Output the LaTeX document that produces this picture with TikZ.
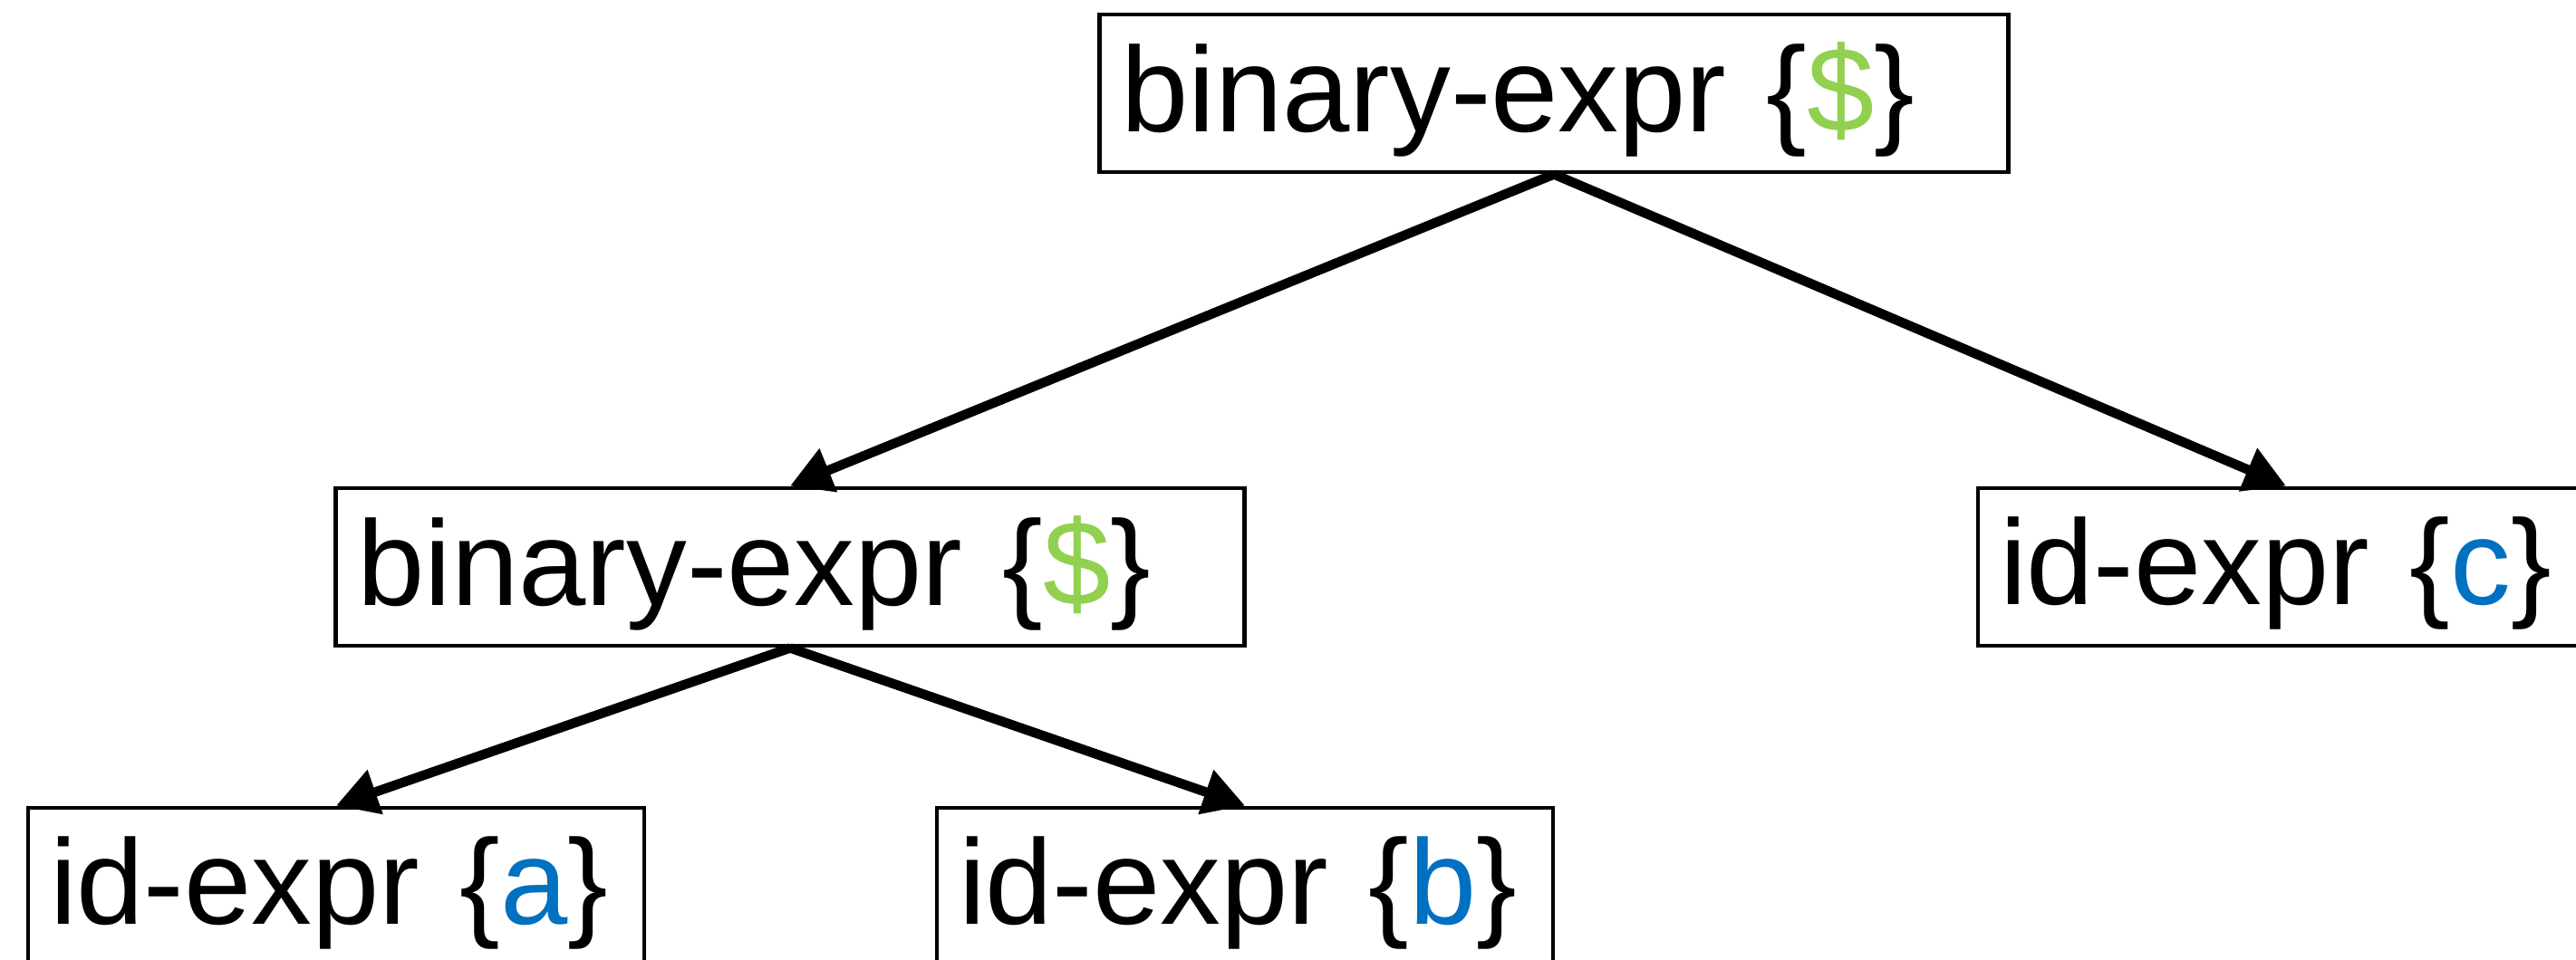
\documentclass[tikz,border=0pt]{standalone}
\usepackage{fontspec}
\setmainfont{Liberation Sans}
\usetikzlibrary{arrows.meta}
\definecolor{dollargreen}{RGB}{146,208,80}
\definecolor{idblue}{RGB}{0,112,192}

\begin{document}
\begin{tikzpicture}

\tikzset{ExprBox/.style={draw, line width=1.4pt, inner xsep=0.24cm, minimum height=1.74cm, text depth=4pt, align=left, font=\fontsize{38}{40}\selectfont}};
\tikzset{wide/.style={ExprBox, text width=9.55cm}};
\tikzset{narrow/.style={ExprBox, text width=6.32cm}};
\tikzset{edge/.style={-{Triangle[length=13pt,width=14pt]}, line width=3pt}};
%\tikzset{edgee/.style={{Triangle}-{Triangle}, line width=3pt}};

\useasboundingbox (0,0) rectangle (28.43,10.6);

\begin{scope}

\node[wide] (root) at (17.15,9.57) {binary-expr \{\textcolor{dollargreen}{\$}\}};

\node[wide] (inner) at (8.72,4.34) {binary-expr \{\textcolor{dollargreen}{\$}\}};
\node[narrow] (idc) at (25.23,4.34) {id-expr \{\textcolor{idblue}{c}\}};

\node[narrow] (ida) at (3.71,0.81) {id-expr \{\textcolor{idblue}{a}\}};
\node[narrow] (idb) at (13.74,0.81) {id-expr \{\textcolor{idblue}{b}\}};

\draw[edge] (root.south) -- (inner.north);
\draw[edge] (root.south) -- (idc.north);
\draw[edge] (inner.south) -- (ida.north);
\draw[edge] (inner.south) -- (idb.north);

\end{scope}

\end{tikzpicture}
\end{document}
